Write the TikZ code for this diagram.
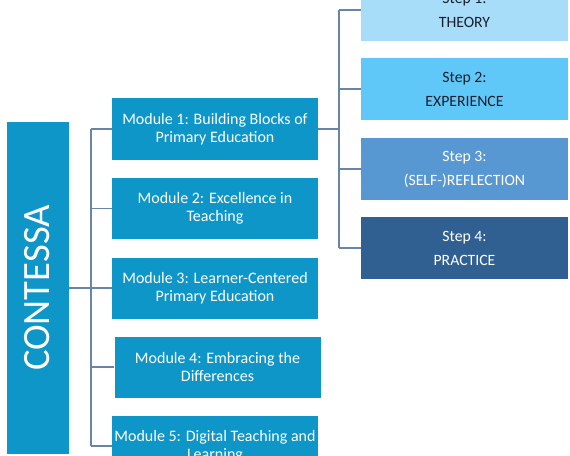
\documentclass[tikz,border=0pt]{standalone}
\usepackage{fontspec}
\setmainfont{Carlito}
\definecolor{modblue}{RGB}{14,150,201}
\definecolor{stepone}{RGB}{168,221,250}
\definecolor{steptwo}{RGB}{96,200,248}
\definecolor{stepthree}{RGB}{88,152,210}
\definecolor{stepfour}{RGB}{48,96,146}
\definecolor{linkgray}{RGB}{105,132,165}
\definecolor{darktext}{RGB}{25,30,45}
\begin{document}
\begin{tikzpicture}[x=0.75pt,y=-0.75pt,
  modbox/.style={fill=modblue,text=white,inner sep=0pt,minimum width=154.5pt,
    minimum height=45.75pt,align=center,font=\fontsize{12}{13.5}\selectfont},
  stepbox/.style={inner sep=0pt,minimum width=155.25pt,minimum height=46.5pt,
    align=center,font=\fontsize{11.8}{18}\selectfont},
  link/.style={draw=linkgray,line width=1.1pt}]
  \useasboundingbox (0,0) rectangle (570,456);
  \clip (0,0) rectangle (570,456);
  % root
  \node[fill=modblue,text=white,inner sep=0pt,minimum width=249pt,minimum height=46.5pt,
    rotate=90,font=\fontsize{29}{34}\selectfont] (contessa) at (37.5,288) {CONTESSA};
  % modules
  \node[modbox] (mod1) at (215,129) {Module 1: Building Blocks of\\Primary Education};
  \node[modbox] (mod2) at (215,208.5) {Module 2: Excellence in\\Teaching};
  \node[modbox] (mod3) at (215,288) {Module 3: Learner-Centered\\Primary Education};
  \node[modbox] (mod4) at (217.5,367) {Module 4: Embracing the\\Differences};
  \node[modbox] (mod5) at (215,446) {Module 5: Digital Teaching and\\Learning};
  % steps
  \node[stepbox,fill=stepone,text=darktext] (step1) at (464.5,10) {Step 1:\\THEORY};
  \node[stepbox,fill=steptwo,text=darktext] (step2) at (464.5,89) {Step 2:\\EXPERIENCE};
  \node[stepbox,fill=stepthree,text=white] (step3) at (464.5,169) {Step 3:\\(SELF-)REFLECTION};
  \node[stepbox,fill=stepfour,text=white] (step4) at (464.5,248) {Step 4:\\PRACTICE};
  % connectors
  \coordinate (mbus) at (91,0);
  \coordinate (sbus) at (339,0);
  \draw[link] (contessa) -- (mod3);
  \draw[link] (mbus |- mod1) -- (mbus |- mod5);
  \draw[link] (mbus |- mod1) -- (mod1.west);
  \draw[link] (mbus |- mod2) -- (mod2.west);
  \draw[link] (mbus |- mod4) -- (mod4.west);
  \draw[link] (mbus |- mod5) -- (mod5.west);
  \draw[link] (mod1.east) -- (sbus |- mod1);
  \draw[link] (sbus |- step1) -- (sbus |- step4);
  \draw[link] (sbus |- step1) -- (step1.west);
  \draw[link] (sbus |- step2) -- (step2.west);
  \draw[link] (sbus |- step3) -- (step3.west);
  \draw[link] (sbus |- step4) -- (step4.west);
\end{tikzpicture}
\end{document}
